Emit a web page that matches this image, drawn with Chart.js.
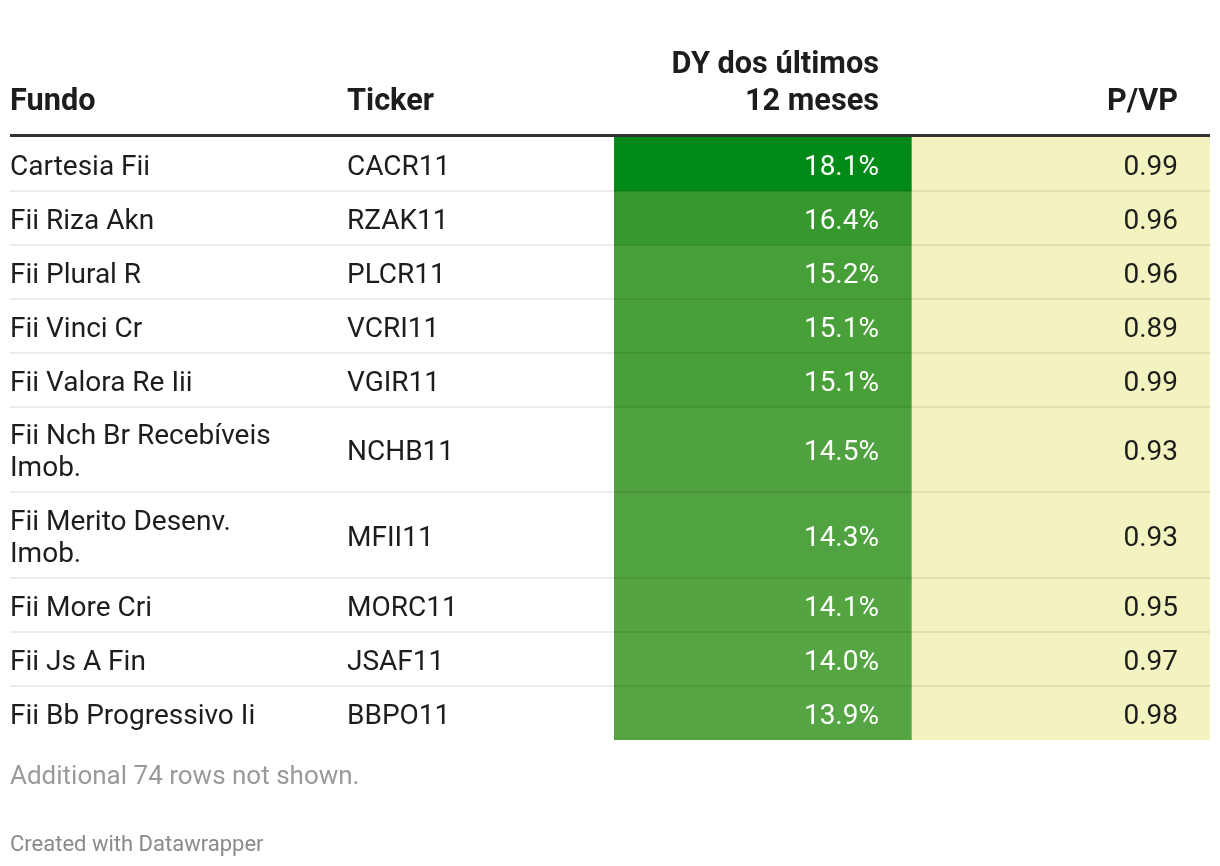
<!DOCTYPE html>
<html lang="pt-BR">
<head>
<meta charset="utf-8">
<title>FIIs - DY dos últimos 12 meses</title>
<script src="https://cdn.jsdelivr.net/npm/chart.js@4/dist/chart.umd.min.js"></script>
<style>
  html, body { margin: 0; padding: 0; background: #fff; }
  body { width: 1220px; height: 866px; position: relative; overflow: hidden; font-family: Roboto, "Noto Sans", sans-serif; color: #1d1d1d; }
  #wrap { position: absolute; left: 0; top: 0; width: 1220px; height: 866px; }
  .th { position: absolute; font-weight: 700; font-size: 30.7px; line-height: 37px; white-space: nowrap; }
  .note { position: absolute; left: 10px; white-space: nowrap; }
</style>
</head>
<body>
<div id="wrap"><canvas id="tabela"></canvas></div>

<div class="th" style="left:10px; top:81px;">Fundo</div>
<div class="th" style="left:347px; top:81px;">Ticker</div>
<div class="th" style="right:341px; top:44px; text-align:right;">DY dos últimos<br>12 meses</div>
<div class="th" style="right:42px; top:81px; text-align:right;">P/VP</div>

<div class="note" style="top:760px; font-size:26px; line-height:30px; color:#9a9a9a;">Additional 74 rows not shown.</div>
<div class="note" style="top:831px; font-size:22px; line-height:26px; color:#8a8a8a;">Created with Datawrapper</div>

<script>
// dados da tabela
const fundos = [
    'Cartesia Fii',
    'Fii Riza Akn',
    'Fii Plural R',
    'Fii Vinci Cr',
    'Fii Valora Re Iii',
    'Fii Nch Br Recebíveis Imob.',
    'Fii Merito Desenv. Imob.',
    'Fii More Cri',
    'Fii Js A Fin',
    'Fii Bb Progressivo Ii',
];
const tickers = ['CACR11', 'RZAK11', 'PLCR11', 'VCRI11', 'VGIR11', 'NCHB11', 'MFII11', 'MORC11', 'JSAF11', 'BBPO11'];
const dy12m = [18.1, 16.4, 15.2, 15.1, 15.1, 14.5, 14.3, 14.1, 14.0, 13.9];
const pvp = [0.99, 0.96, 0.96, 0.89, 0.99, 0.93, 0.93, 0.95, 0.97, 0.98];
const colunas = ['DY dos últimos 12 meses', 'P/VP'];

// estilo
const FONT_BODY = '28px Roboto';
const TEXT_COLOR = '#1d1d1d';
const PVP_COLOR = '#f2f3c1';
const NAME_MAX_W = 275;
const LINE_H = 32;
const ROW_PAD = 22;
const BASE_SHIFT = 11; // centro da linha -> baseline

// escala de cor do DY (verde)
const dyStops = [
    { v: 13.5, c: [90, 167, 72] },
    { v: 15.0, c: [74, 160, 58] },
    { v: 16.4, c: [55, 153, 45] },
    { v: 18.1, c: [0, 138, 23] },
];
function dyColor(v) {
    if (v <= dyStops[0].v) return `rgb(${dyStops[0].c.join(',')})`;
    for (let i = 1; i < dyStops.length; i++) {
        const a = dyStops[i - 1], b = dyStops[i];
        if (v <= b.v) {
            const t = (v - a.v) / (b.v - a.v);
            const c = a.c.map((x, k) => Math.round(x + (b.c[k] - x) * t));
            return `rgb(${c.join(',')})`;
        }
    }
    return `rgb(${dyStops[dyStops.length - 1].c.join(',')})`;
}

// quebra de linha dos nomes
const measureCtx = document.createElement('canvas').getContext('2d');
measureCtx.font = FONT_BODY;
function wrap(text) {
    const words = text.split(' ');
    const lines = [];
    let cur = '';
    words.forEach(w => {
        const test = cur ? cur + ' ' + w : w;
        if (cur && measureCtx.measureText(test).width > NAME_MAX_W) {
            lines.push(cur);
            cur = w;
        } else {
            cur = test;
        }
    });
    if (cur) lines.push(cur);
    return lines;
}
const nameLines = fundos.map(wrap);

// limites das linhas (altura depende do número de linhas do nome)
const rowEdges = [0];
nameLines.forEach(l => rowEdges.push(rowEdges[rowEdges.length - 1] + ROW_PAD + LINE_H * l.length));
const total = rowEdges[rowEdges.length - 1];

const datasets = dy12m.map((v, i) => ({
    label: tickers[i],
    data: [[rowEdges[i], rowEdges[i + 1]], [rowEdges[i], rowEdges[i + 1]]],
    backgroundColor: [dyColor(v), PVP_COLOR],
    borderWidth: 0,
    borderSkipped: false,
    grouped: false,
    categoryPercentage: 1,
    barPercentage: 1,
}));

// plugin que escreve os textos e as linhas da tabela
const tablePlugin = {
    id: 'tablePlugin',
    afterDatasetsDraw(chart) {
        const ctx = chart.ctx;
        const y = chart.scales.y;
        const left = 10, right = 1210;
        ctx.save();

        // separadores
        ctx.fillStyle = 'rgba(0,0,0,0.075)';
        for (let i = 1; i < rowEdges.length - 1; i++) {
            const py = Math.round(y.getPixelForValue(rowEdges[i]));
            ctx.fillRect(left, py - 1, right - left, 2);
        }
        // linha do cabeçalho
        ctx.fillStyle = '#333333';
        ctx.fillRect(left, Math.round(y.getPixelForValue(0)) - 3, right - left, 3);

        ctx.font = FONT_BODY;
        ctx.textBaseline = 'alphabetic';
        chart.data.datasets.forEach((ds, i) => {
            const meta = chart.getDatasetMeta(i);
            const dyBar = meta.data[0];
            const pvpBar = meta.data[1];
            const cy = (dyBar.y + dyBar.base) / 2 + BASE_SHIFT;

            ctx.fillStyle = TEXT_COLOR;
            ctx.textAlign = 'left';
            const lines = nameLines[i];
            lines.forEach((l, k) => {
                ctx.fillText(l, left, cy + (k - (lines.length - 1) / 2) * LINE_H);
            });
            ctx.fillText(tickers[i], 347, cy);

            ctx.textAlign = 'right';
            ctx.fillStyle = '#ffffff';
            ctx.fillText(dy12m[i].toFixed(1) + '%', dyBar.x + dyBar.width / 2 - 33, cy);
            ctx.fillStyle = TEXT_COLOR;
            ctx.fillText(pvp[i].toFixed(2), pvpBar.x + pvpBar.width / 2 - 32, cy);
        });
        ctx.restore();
    },
};

new Chart(document.getElementById('tabela'), {
    type: 'bar',
    data: { labels: colunas, datasets },
    options: {
        responsive: true,
        maintainAspectRatio: false,
        animation: false,
        layout: { padding: { top: 137, bottom: 126, left: 614, right: 10 } },
        plugins: {
            legend: { display: false },
            tooltip: { enabled: false },
        },
        scales: {
            x: { type: 'category', display: false, offset: true },
            y: { type: 'linear', display: false, reverse: true, min: 0, max: total },
        },
    },
    plugins: [tablePlugin],
});
</script>
</body>
</html>
